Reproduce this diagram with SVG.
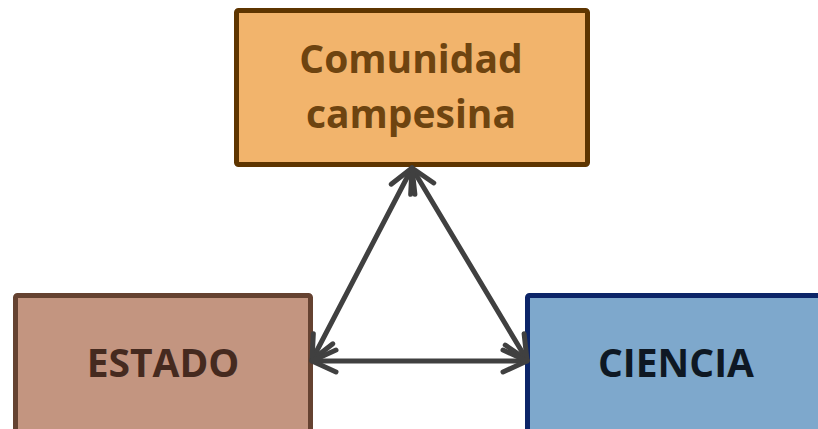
<svg xmlns="http://www.w3.org/2000/svg" width="818" height="429" viewBox="0 0 818 429">
  <style>
    .lbl { font-family: "Open Sans", "Noto Sans", "Liberation Sans", sans-serif; font-weight: bold; font-size: 39px; text-anchor: middle; }
    .conn { stroke: #404040; stroke-width: 5; fill: none; stroke-linecap: round; }
  </style>
  <defs>
    <marker id="arr" markerUnits="userSpaceOnUse" markerWidth="60" markerHeight="60" viewBox="-30 -30 60 60" refX="0" refY="0" orient="auto-start-reverse">
      <path d="M -24 -11 L 0 0 L -24 11" fill="none" stroke="#404040" stroke-width="5" stroke-linecap="round" stroke-linejoin="round"/>
    </marker>
  </defs>
  <rect width="818" height="429" fill="#ffffff"/>
  <g id="comunidad">
    <rect x="236.5" y="10.5" width="351" height="154" rx="2" fill="#F2B46C" stroke="#5E3500" stroke-width="5"/>
    <text class="lbl" x="411" y="73" fill="#6E4410">Comunidad</text>
    <text class="lbl" x="411" y="128" fill="#6E4410">campesina</text>
  </g>
  <g id="estado">
    <rect x="15.5" y="295.5" width="295" height="140" rx="2" fill="#C39580" stroke="#654231" stroke-width="5"/>
    <text class="lbl" x="163" y="377" fill="#452A1F">ESTADO</text>
  </g>
  <g id="ciencia">
    <rect x="527.5" y="295.5" width="300" height="140" rx="2" fill="#7EA8CC" stroke="#0C2568" stroke-width="5"/>
    <text class="lbl" x="676" y="377" fill="#0E1823">CIENCIA</text>
  </g>
  <g id="connectors">
    <line class="conn" x1="412" y1="168" x2="312" y2="360" marker-start="url(#arr)" marker-end="url(#arr)"/>
    <line class="conn" x1="412" y1="168" x2="527" y2="360" marker-start="url(#arr)" marker-end="url(#arr)"/>
    <line class="conn" x1="312" y1="361" x2="527" y2="361" marker-start="url(#arr)" marker-end="url(#arr)"/>
  </g>
</svg>
